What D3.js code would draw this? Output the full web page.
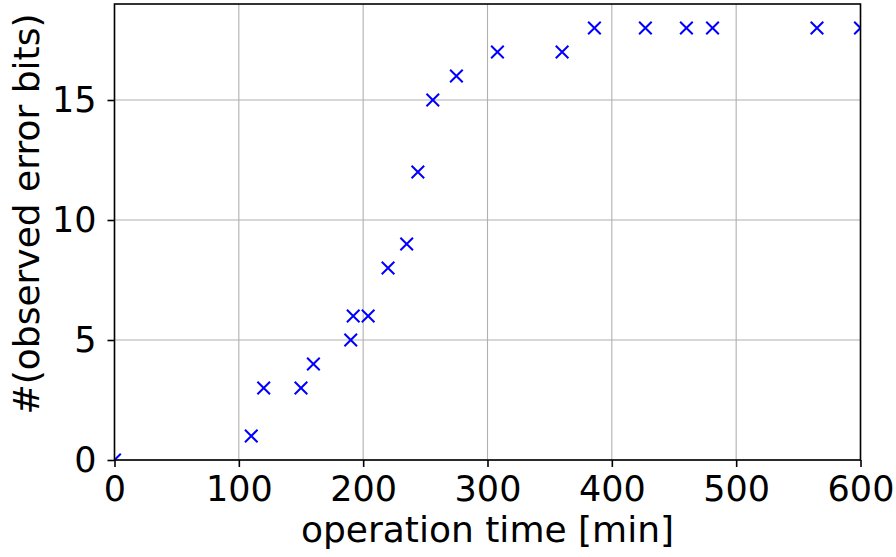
<!DOCTYPE html>
<html>
<head>
<meta charset="utf-8">
<script src="https://cdn.jsdelivr.net/npm/d3@7"></script>
<style>
  body { margin: 0; background: #fff; }
  svg { display: block; font-family: "DejaVu Sans", sans-serif; }
</style>
</head>
<body>
<div id="chart"></div>
<script>
// operation time [min] vs observed error bits
const times = [0, 110, 120, 150, 160, 190, 192, 204, 220, 235, 244, 256, 275, 308, 360, 386, 427, 460, 481, 565, 600];
const errorBits = [0, 1, 3, 3, 4, 5, 6, 6, 8, 9, 12, 15, 16, 17, 17, 18, 18, 18, 18, 18, 18];
const xTicks = [0, 100, 200, 300, 400, 500, 600];
const yTicks = [0, 5, 10, 15];

const width = 896, height = 557;
const margin = { top: 4, right: 35.5, bottom: 97, left: 114.5 };

const svg = d3.select("#chart").append("svg")
  .attr("width", width)
  .attr("height", height);

const x = d3.scaleLinear().domain([0, 600]).range([margin.left, width - margin.right]);
const y = d3.scaleLinear().domain([0, 19]).range([height - margin.bottom, margin.top]);

// grid
const grid = svg.append("g");
grid.selectAll(".gx").data(xTicks).join("line")
  .attr("x1", d => x(d)).attr("x2", d => x(d))
  .attr("y1", y(0)).attr("y2", y(19))
  .attr("stroke", "#b0b0b0").attr("stroke-width", 1.1);
grid.selectAll(".gy").data(yTicks).join("line")
  .attr("x1", x(0)).attr("x2", x(600))
  .attr("y1", d => y(d)).attr("y2", d => y(d))
  .attr("stroke", "#b0b0b0").attr("stroke-width", 1.1);

// points, clipped to axes
svg.append("clipPath").attr("id", "clip")
  .append("rect")
  .attr("x", x(0)).attr("y", y(19))
  .attr("width", x(600) - x(0)).attr("height", y(0) - y(19));

const s = 6.3;
svg.append("g").attr("clip-path", "url(#clip)")
  .selectAll("path").data(times).join("path")
  .attr("d", (d, i) => {
    const cx = x(d), cy = y(errorBits[i]);
    return `M${cx - s},${cy - s}L${cx + s},${cy + s}M${cx - s},${cy + s}L${cx + s},${cy - s}`;
  })
  .attr("stroke", "#0000ff")
  .attr("stroke-width", 2)
  .attr("fill", "none");

// frame
svg.append("rect")
  .attr("x", x(0)).attr("y", y(19))
  .attr("width", x(600) - x(0)).attr("height", y(0) - y(19))
  .attr("fill", "none").attr("stroke", "#000").attr("stroke-width", 1.6);

// axes
const xAxis = svg.append("g")
  .attr("transform", `translate(0,${y(0)})`)
  .call(d3.axisBottom(x).tickValues(xTicks).tickSize(7).tickPadding(9));
const yAxis = svg.append("g")
  .attr("transform", `translate(${x(0)},0)`)
  .call(d3.axisLeft(y).tickValues(yTicks).tickSize(7).tickPadding(11));

[xAxis, yAxis].forEach(a => {
  a.select(".domain").remove();
  a.selectAll(".tick line").attr("stroke", "#000").attr("stroke-width", 1.6);
  a.selectAll(".tick text")
    .attr("fill", "#000")
    .style("font-family", "'DejaVu Sans', sans-serif")
    .style("font-size", "35px");
});

// labels
svg.append("text")
  .attr("x", (x(0) + x(600)) / 2)
  .attr("y", 542)
  .attr("text-anchor", "middle")
  .style("font-size", "36px")
  .text("operation time [min]");

svg.append("text")
  .attr("transform", `translate(39,214) rotate(-90)`)
  .attr("text-anchor", "middle")
  .style("font-size", "36px")
  .text("#(observed error bits)");
</script>
</body>
</html>
